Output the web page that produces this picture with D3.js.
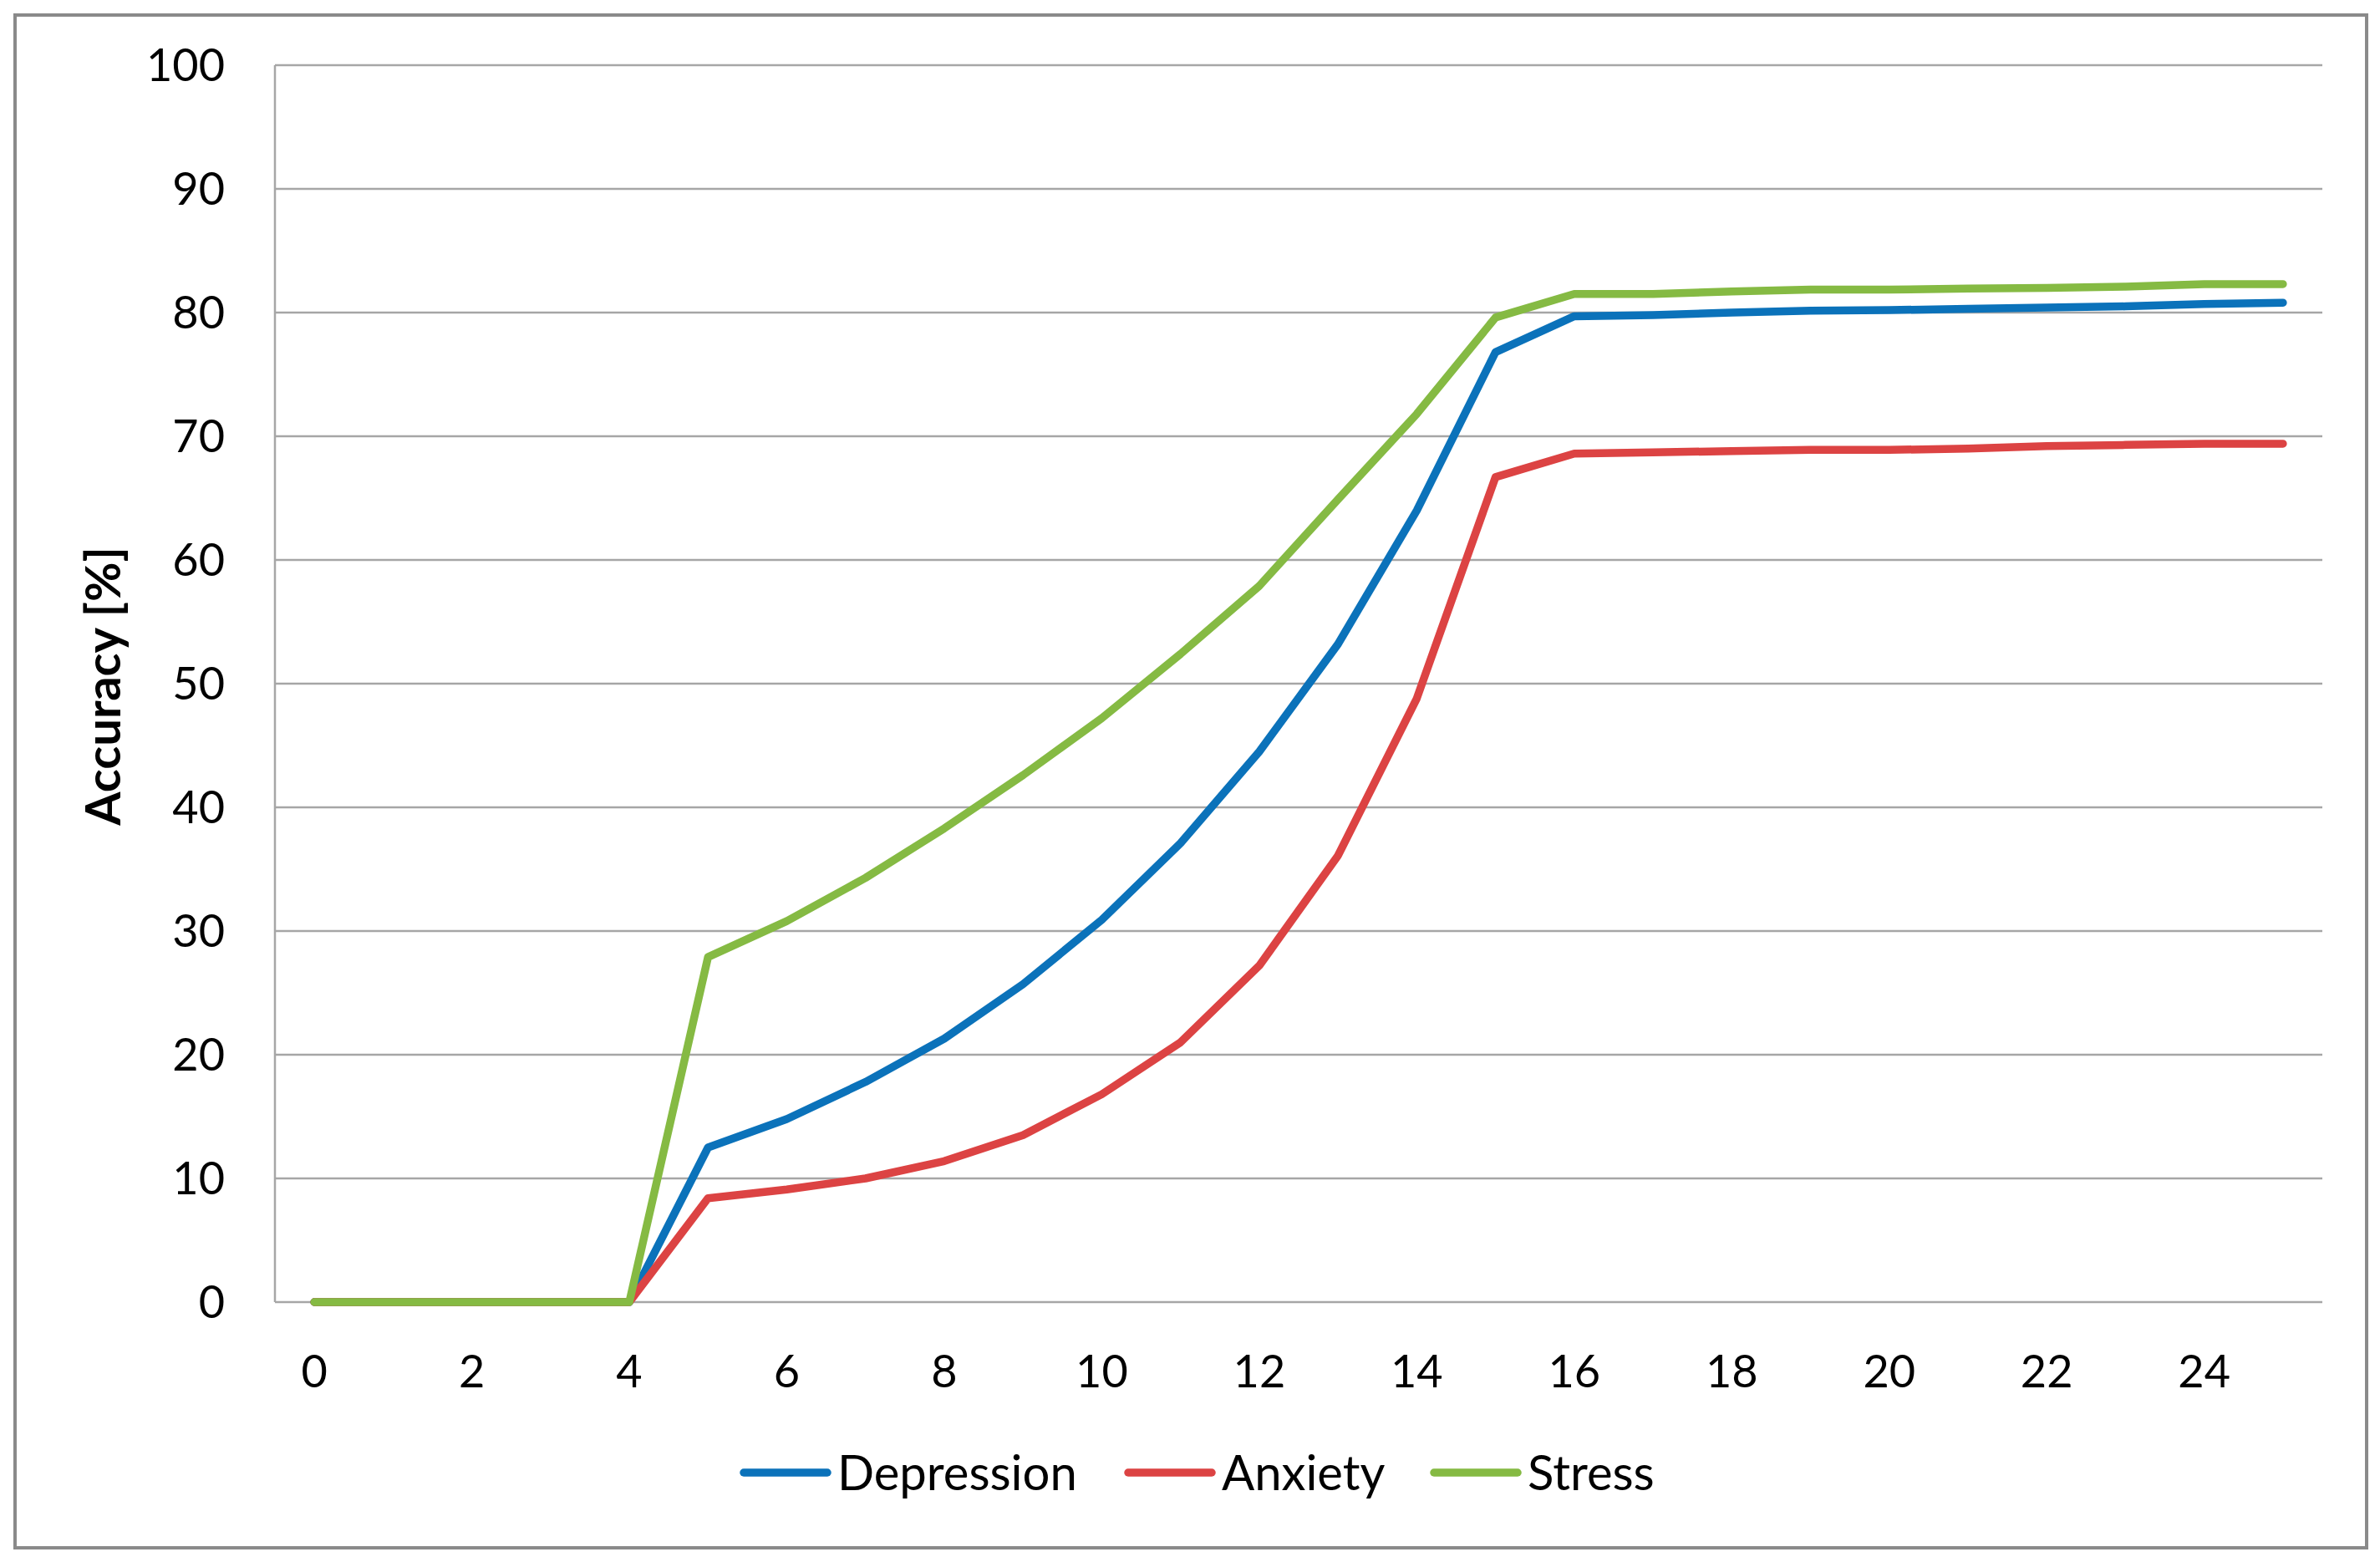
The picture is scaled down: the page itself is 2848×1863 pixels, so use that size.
<!DOCTYPE html>
<html>
<head>
<meta charset="utf-8">
<script src="https://cdn.jsdelivr.net/npm/d3@7"></script>
<style>
  html, body { margin: 0; padding: 0; background: #fff; }
  text { font-family: Lato, "Open Sans", sans-serif; fill: #000; }
</style>
</head>
<body>
<div id="chart"></div>
<script>
// x categories 0..25
var steps = d3.range(0, 26);
var xTickLabels = [0, 2, 4, 6, 8, 10, 12, 14, 16, 18, 20, 22, 24];
var yTickLabels = [0, 10, 20, 30, 40, 50, 60, 70, 80, 90, 100];

var depression = [0, 0, 0, 0, 0, 12.5, 14.8, 17.8, 21.3, 25.7, 30.9, 37.1, 44.5, 53.2, 64.0, 76.8,
                  79.7, 79.8, 80.0, 80.15, 80.2, 80.3, 80.4, 80.5, 80.7, 80.8];
var anxiety    = [0, 0, 0, 0, 0, 8.4, 9.1, 10.0, 11.4, 13.5, 16.8, 21.0, 27.2, 36.1, 48.8, 66.7,
                  68.6, 68.7, 68.8, 68.9, 68.9, 69.0, 69.2, 69.3, 69.4, 69.4];
var stress     = [0, 0, 0, 0, 0, 27.9, 30.8, 34.3, 38.3, 42.6, 47.2, 52.4, 57.9, 64.9, 71.8, 79.6,
                  81.5, 81.5, 81.7, 81.85, 81.85, 81.95, 82.0, 82.1, 82.3, 82.3];

var seriesNames = ["Depression", "Anxiety", "Stress"];
var seriesColors = ["#0b72ba", "#dc4343", "#85ba43"];
var seriesValues = [depression, anxiety, stress];

var W = 2848, H = 1863;
var margin = {top: 78, right: 69, bottom: 305, left: 329};

var svg = d3.select("#chart").append("svg")
    .attr("width", W)
    .attr("height", H);

// outer frame
svg.append("rect")
    .attr("x", 18).attr("y", 18)
    .attr("width", 2814).attr("height", 1834)
    .attr("fill", "#fff")
    .attr("stroke", "#8a8a8a")
    .attr("stroke-width", 4);

var x = d3.scaleLinear()
    .domain([-0.5, 25.5])
    .range([margin.left, W - margin.right]);
var y = d3.scaleLinear()
    .domain([0, 100])
    .range([H - margin.bottom, margin.top]);

// gridlines
svg.append("g").selectAll("line")
    .data(yTickLabels)
    .enter().append("line")
    .attr("x1", x(-0.5))
    .attr("x2", x(25.5))
    .attr("y1", function(d) { return y(d); })
    .attr("y2", function(d) { return y(d); })
    .attr("stroke", "#a6a6a6")
    .attr("stroke-width", 2.5);

// left axis line
svg.append("line")
    .attr("x1", x(-0.5)).attr("x2", x(-0.5))
    .attr("y1", y(0)).attr("y2", y(100))
    .attr("stroke", "#a6a6a6")
    .attr("stroke-width", 2.5);

// y tick labels
svg.append("g").selectAll("text")
    .data(yTickLabels)
    .enter().append("text")
    .attr("x", x(-0.5) - 60)
    .attr("y", function(d) { return y(d); })
    .attr("dy", "0.36em")
    .attr("text-anchor", "end")
    .style("font-size", "54px")
    .text(function(d) { return d; });

// x tick labels
svg.append("g").selectAll("text")
    .data(xTickLabels)
    .enter().append("text")
    .attr("x", function(d) { return x(d); })
    .attr("y", 1660)
    .attr("text-anchor", "middle")
    .style("font-size", "54px")
    .text(function(d) { return d; });

// y axis title
svg.append("text")
    .attr("transform", "translate(144,821) rotate(-90)")
    .attr("text-anchor", "middle")
    .style("font-size", "58px")
    .style("font-weight", "bold")
    .text("Accuracy [%]");

// lines
var line = d3.line()
    .x(function(d, i) { return x(steps[i]); })
    .y(function(d) { return y(d); });

svg.append("g").selectAll("path")
    .data(seriesValues)
    .enter().append("path")
    .attr("d", line)
    .attr("fill", "none")
    .attr("stroke", function(d, i) { return seriesColors[i]; })
    .attr("stroke-width", 9.5)
    .attr("stroke-linejoin", "round")
    .attr("stroke-linecap", "round");

// legend
var legendX = [890, 1350, 1716];
var legend = svg.append("g").selectAll("g")
    .data(seriesNames)
    .enter().append("g")
    .attr("transform", function(d, i) { return "translate(" + legendX[i] + ",1762)"; });

legend.append("line")
    .attr("x1", 0).attr("x2", 100)
    .attr("y1", 0).attr("y2", 0)
    .attr("stroke", function(d, i) { return seriesColors[i]; })
    .attr("stroke-width", 9.5)
    .attr("stroke-linecap", "round");

legend.append("text")
    .attr("x", 112)
    .attr("y", 0)
    .attr("dy", "0.36em")
    .style("font-size", "58px")
    .text(function(d) { return d; });
</script>
</body>
</html>
